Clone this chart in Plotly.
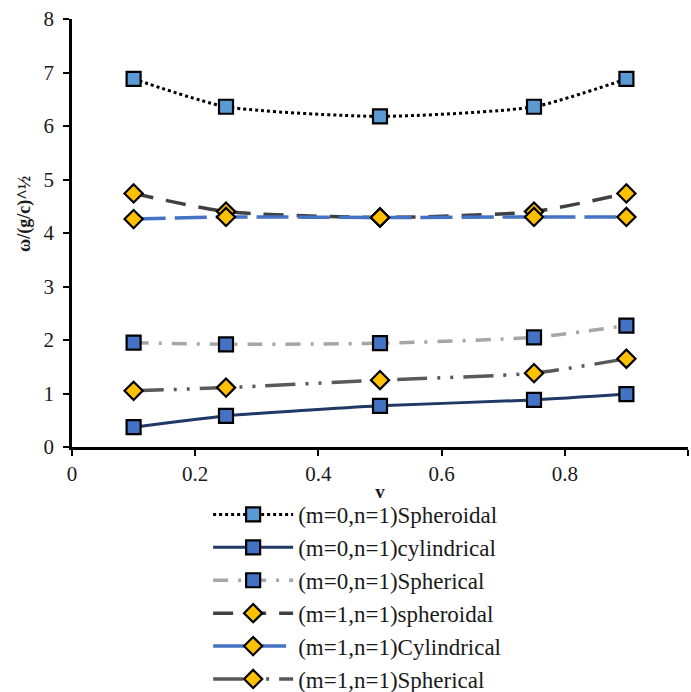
import plotly.graph_objects as go

v = [0.1, 0.25, 0.5, 0.75, 0.9]
sph0 = [6.88, 6.36, 6.18, 6.36, 6.88]
cyl0 = [0.37, 0.58, 0.77, 0.88, 0.99]
spr0 = [1.95, 1.92, 1.94, 2.05, 2.27]
sph1 = [4.74, 4.40, 4.29, 4.40, 4.74]
cyl1 = [4.26, 4.30, 4.29, 4.30, 4.30]
spr1 = [1.05, 1.11, 1.25, 1.38, 1.65]
names = ["(m=0,n=1)Spheroidal", "(m=0,n=1)cylindrical", "(m=0,n=1)Spherical",
         "(m=1,n=1)spheroidal", "(m=1,n=1)Cylindrical", "(m=1,n=1)Spherical"]
x_ticks = [0, 0.2, 0.4, 0.6, 0.8, 1]
x_labels = ["0", "0.2", "0.4", "0.6", "0.8", "1"]
y_ticks = [0, 1, 2, 3, 4, 5, 6, 7, 8]

series = [
    (sph0, dict(color="#000000", width=3, dash="dot"), "square", "#5B9BD5"),
    (cyl0, dict(color="#1F3864", width=3, dash="solid"), "square", "#4472C4"),
    (spr0, dict(color="#A6A6A6", width=3.5, dash="15px,10px,3px,10px"), "square", "#4472C4"),
    (sph1, dict(color="#404040", width=3.5, dash="20px,13px"), "diamond", "#FFC000"),
    (cyl1, dict(color="#4472C4", width=3.5, dash="32px,9px"), "diamond", "#FFC000"),
    (spr1, dict(color="#595959", width=3.5, dash="30px,10px,3px,10px,3px,10px"), "diamond", "#FFC000"),
]

fig = go.Figure()
for (y, line, sym, fill), name in zip(series, names):
    fig.add_trace(go.Scatter(
        x=v, y=y, name=name, mode="lines+markers",
        line=dict(shape="spline", smoothing=0.6, **line),
        marker=dict(symbol=sym, size=14, color=fill,
                    line=dict(color="#000000", width=2.2)),
    ))

font = "Liberation Serif, Times New Roman, serif"
fig.update_layout(
    width=691, height=692,
    margin=dict(l=72, r=3, t=19, b=245, autoexpand=False),
    paper_bgcolor="white", plot_bgcolor="white",
    font=dict(family=font, size=20, color="#1a1a1a"),
    showlegend=True,
    legend=dict(x=0.221, y=-0.1075, xanchor="left", yanchor="top",
                font=dict(family=font, size=23, color="#1a1a1a"),
                itemwidth=80, tracegroupgap=0, borderwidth=0,
                bgcolor="rgba(0,0,0,0)"),
    xaxis=dict(range=[0, 1], tickvals=x_ticks, ticktext=x_labels,
               showgrid=False, zeroline=False, automargin=False,
               showline=True, linecolor="#000000", linewidth=2.5,
               ticks="outside", ticklen=6, tickwidth=2, tickcolor="#000000",
               tickfont=dict(family=font, size=21),
               title=dict(text="<b>v</b>", font=dict(size=19), standoff=0)),
    yaxis=dict(range=[0, 8], tickvals=y_ticks, showgrid=False, zeroline=False,
               automargin=False, ticklabelstandoff=5,
               showline=True, linecolor="#000000", linewidth=2.5,
               ticks="outside", ticklen=6, tickwidth=2, tickcolor="#000000",
               tickfont=dict(family=font, size=21)),
    annotations=[dict(text="<b>ω/(g/c)^½</b>", textangle=-90,
                      xref="paper", yref="paper", x=-0.076, y=0.545,
                      xanchor="center", yanchor="middle", showarrow=False,
                      font=dict(family=font, size=18, color="#1a1a1a"))],
)
fig.write_html("out.html", config={"displayModeBar": False},
               post_script="document.body.style.margin='0';")
